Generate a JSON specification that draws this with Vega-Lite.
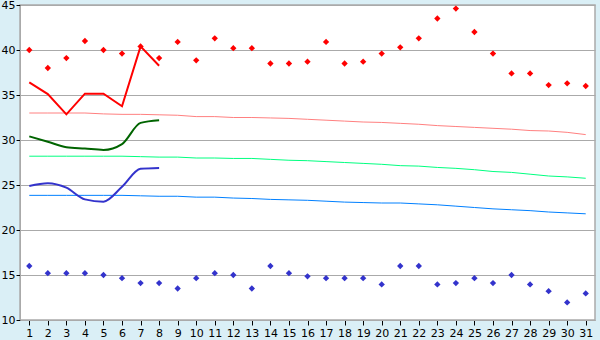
{
  "$schema": "https://vega.github.io/schema/vega-lite/v6.json",
  "width": 575,
  "height": 315,
  "autosize": {"type": "none"},
  "padding": {"left": 20, "top": 5, "right": 5, "bottom": 20},
  "background": "#daeff6",
  "config": {
    "view": {"fill": "white", "stroke": "#aaaaaa", "strokeWidth": 1.5},
    "font": "DejaVu Sans"
  },
  "datasets": {
    "records": [
      {"day": 1, "max": 40.0, "min": 16.0},
      {"day": 2, "max": 38.0, "min": 15.2},
      {"day": 3, "max": 39.1, "min": 15.2},
      {"day": 4, "max": 41.0, "min": 15.2},
      {"day": 5, "max": 40.0, "min": 15.0},
      {"day": 6, "max": 39.6, "min": 14.65},
      {"day": 7, "max": 40.4, "min": 14.1},
      {"day": 8, "max": 39.1, "min": 14.1},
      {"day": 9, "max": 40.9, "min": 13.5},
      {"day": 10, "max": 38.85, "min": 14.65},
      {"day": 11, "max": 41.3, "min": 15.2},
      {"day": 12, "max": 40.2, "min": 15.0},
      {"day": 13, "max": 40.2, "min": 13.5},
      {"day": 14, "max": 38.5, "min": 16.0},
      {"day": 15, "max": 38.5, "min": 15.2},
      {"day": 16, "max": 38.7, "min": 14.85},
      {"day": 17, "max": 40.9, "min": 14.65},
      {"day": 18, "max": 38.5, "min": 14.65},
      {"day": 19, "max": 38.7, "min": 14.65},
      {"day": 20, "max": 39.6, "min": 13.95},
      {"day": 21, "max": 40.3, "min": 16.0},
      {"day": 22, "max": 41.3, "min": 16.0},
      {"day": 23, "max": 43.5, "min": 13.95},
      {"day": 24, "max": 44.6, "min": 14.1},
      {"day": 25, "max": 42.0, "min": 14.65},
      {"day": 26, "max": 39.6, "min": 14.1},
      {"day": 27, "max": 37.4, "min": 15.0},
      {"day": 28, "max": 37.4, "min": 13.95},
      {"day": 29, "max": 36.1, "min": 13.2},
      {"day": 30, "max": 36.3, "min": 11.95},
      {"day": 31, "max": 36.0, "min": 12.95}
    ],
    "normals": [
      {"day": 1, "nmax": 33.0, "nmean": 28.2, "nmin": 23.85},
      {"day": 2, "nmax": 33.0, "nmean": 28.2, "nmin": 23.85},
      {"day": 3, "nmax": 33.0, "nmean": 28.2, "nmin": 23.85},
      {"day": 4, "nmax": 33.0, "nmean": 28.2, "nmin": 23.85},
      {"day": 5, "nmax": 32.9, "nmean": 28.2, "nmin": 23.85},
      {"day": 6, "nmax": 32.85, "nmean": 28.2, "nmin": 23.85},
      {"day": 7, "nmax": 32.85, "nmean": 28.15, "nmin": 23.8},
      {"day": 8, "nmax": 32.8, "nmean": 28.1, "nmin": 23.75},
      {"day": 9, "nmax": 32.75, "nmean": 28.1, "nmin": 23.75},
      {"day": 10, "nmax": 32.6, "nmean": 28.0, "nmin": 23.65},
      {"day": 11, "nmax": 32.6, "nmean": 28.0, "nmin": 23.65},
      {"day": 12, "nmax": 32.5, "nmean": 27.95, "nmin": 23.55},
      {"day": 13, "nmax": 32.5, "nmean": 27.95, "nmin": 23.5},
      {"day": 14, "nmax": 32.45, "nmean": 27.85, "nmin": 23.4},
      {"day": 15, "nmax": 32.4, "nmean": 27.75, "nmin": 23.35},
      {"day": 16, "nmax": 32.3, "nmean": 27.7, "nmin": 23.3},
      {"day": 17, "nmax": 32.2, "nmean": 27.6, "nmin": 23.2},
      {"day": 18, "nmax": 32.1, "nmean": 27.5, "nmin": 23.1},
      {"day": 19, "nmax": 32.0, "nmean": 27.4, "nmin": 23.05},
      {"day": 20, "nmax": 31.95, "nmean": 27.3, "nmin": 23.0},
      {"day": 21, "nmax": 31.85, "nmean": 27.15, "nmin": 23.0},
      {"day": 22, "nmax": 31.75, "nmean": 27.1, "nmin": 22.9},
      {"day": 23, "nmax": 31.6, "nmean": 26.95, "nmin": 22.8},
      {"day": 24, "nmax": 31.5, "nmean": 26.85, "nmin": 22.65},
      {"day": 25, "nmax": 31.4, "nmean": 26.7, "nmin": 22.5},
      {"day": 26, "nmax": 31.3, "nmean": 26.5, "nmin": 22.35},
      {"day": 27, "nmax": 31.2, "nmean": 26.4, "nmin": 22.25},
      {"day": 28, "nmax": 31.05, "nmean": 26.2, "nmin": 22.15},
      {"day": 29, "nmax": 31.0, "nmean": 26.0, "nmin": 22.0},
      {"day": 30, "nmax": 30.85, "nmean": 25.9, "nmin": 21.9},
      {"day": 31, "nmax": 30.6, "nmean": 25.75, "nmin": 21.8}
    ],
    "actual": [
      {"day": 1, "tmax": 36.4, "tmean": 30.4, "tmin": 24.9},
      {"day": 2, "tmax": 35.1, "tmean": 29.8, "tmin": 25.2},
      {"day": 3, "tmax": 32.85, "tmean": 29.2, "tmin": 24.7},
      {"day": 4, "tmax": 35.15, "tmean": 29.05, "tmin": 23.4},
      {"day": 5, "tmax": 35.15, "tmean": 28.9, "tmin": 23.15},
      {"day": 6, "tmax": 33.75, "tmean": 29.55, "tmin": 24.8},
      {"day": 7, "tmax": 40.4, "tmean": 31.9, "tmin": 26.8},
      {"day": 8, "tmax": 38.25, "tmean": 32.2, "tmin": 26.9}
    ]
  },
  "encoding": {
    "x": {
      "field": "day", "type": "quantitative",
      "scale": {"domain": [0.5, 31.5], "nice": false, "zero": false},
      "axis": {
        "title": null, "grid": false,
        "values": [1,2,3,4,5,6,7,8,9,10,11,12,13,14,15,16,17,18,19,20,21,22,23,24,25,26,27,28,29,30,31],
        "domainColor": "#aaaaaa", "tickColor": "black", "tickSize": 5,
        "labelColor": "black", "labelFontSize": 11, "labelPadding": 2,
        "labelFont": "DejaVu Sans"
      }
    }
  },
  "layer": [
    {
      "data": {"name": "records"},
      "mark": {"type": "rule", "opacity": 0},
      "encoding": {
        "y": {
          "field": "max", "type": "quantitative",
          "scale": {"domain": [10, 45], "nice": false, "zero": false},
          "axis": {
            "title": null, "values": [10, 15, 20, 25, 30, 35, 40, 45],
            "grid": true, "gridColor": "#aaaaaa", "gridWidth": 1.2, "gridOpacity": 1,
            "domainColor": "#aaaaaa", "tickColor": "black", "tickSize": 4,
            "labelColor": "black", "labelFontSize": 11, "labelPadding": 1,
            "labelFont": "DejaVu Sans"
          }
        }
      }
    },
    {
      "data": {"name": "normals"},
      "mark": {"type": "line", "color": "#ff8080", "strokeWidth": 1},
      "encoding": {"y": {"field": "nmax", "type": "quantitative"}}
    },
    {
      "data": {"name": "normals"},
      "mark": {"type": "line", "color": "#00ff80", "strokeWidth": 1},
      "encoding": {"y": {"field": "nmean", "type": "quantitative"}}
    },
    {
      "data": {"name": "normals"},
      "mark": {"type": "line", "color": "#0080ff", "strokeWidth": 1},
      "encoding": {"y": {"field": "nmin", "type": "quantitative"}}
    },
    {
      "data": {"name": "actual"},
      "mark": {"type": "line", "color": "#ff0000", "strokeWidth": 2},
      "encoding": {"y": {"field": "tmax", "type": "quantitative"}}
    },
    {
      "data": {"name": "actual"},
      "mark": {"type": "line", "color": "#006400", "strokeWidth": 2, "interpolate": "monotone"},
      "encoding": {"y": {"field": "tmean", "type": "quantitative"}}
    },
    {
      "data": {"name": "actual"},
      "mark": {"type": "line", "color": "#3333cc", "strokeWidth": 2, "interpolate": "monotone"},
      "encoding": {"y": {"field": "tmin", "type": "quantitative"}}
    },
    {
      "data": {"name": "records"},
      "mark": {"type": "point", "shape": "diamond", "filled": true, "color": "#ff0000", "size": 40, "opacity": 1},
      "encoding": {"y": {"field": "max", "type": "quantitative"}}
    },
    {
      "data": {"name": "records"},
      "mark": {"type": "point", "shape": "diamond", "filled": true, "color": "#3333cc", "size": 40, "opacity": 1},
      "encoding": {"y": {"field": "min", "type": "quantitative"}}
    }
  ]
}
